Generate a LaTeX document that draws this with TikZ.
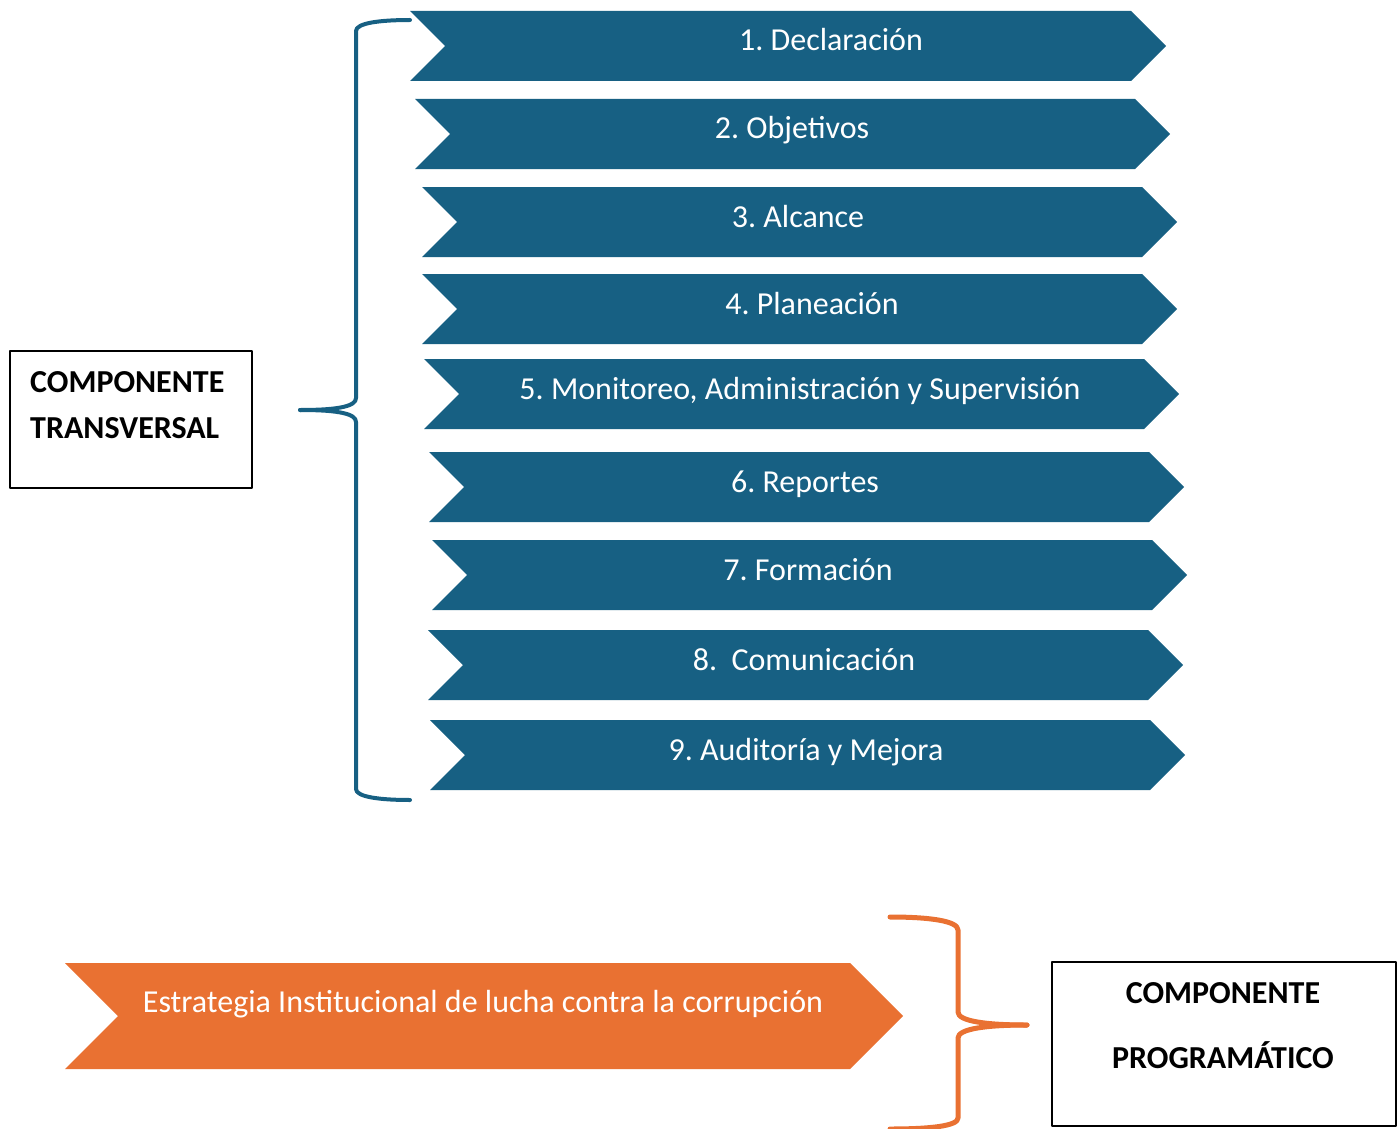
\documentclass[tikz,border=0pt]{standalone}
\usepackage{fontspec}
\usepackage{tikz}
\setmainfont{Carlito}
\usetikzlibrary{positioning}
\definecolor{azul}{rgb}{0.09,0.376,0.514}
\definecolor{naranja}{rgb}{0.914,0.443,0.196}
\frenchspacing
\tikzstyle{every node}=[font=\fontsize{32}{38}\selectfont]
\tikzset{
  paso/.style={anchor=base,text=white,inner sep=0pt},
  titulo/.style={anchor=base,font=\fontsize{32}{38}\selectfont\bfseries,inner sep=0pt},
  caja/.style={draw=black,line width=1.2pt,minimum width=#1,inner sep=0pt}
}
\begin{document}
\begin{tikzpicture}[line cap=round,line join=round,x=1pt,y=-1pt]
\useasboundingbox (0,0) rectangle (1400,1129);
% componente transversal
\fill[azul] (410,11) -- (1131,11) -- (1166,46) -- (1131,81) -- (410,81) -- (445,46) -- cycle;
\node[paso] (p1) at (831,51) {1. Declaración};
\fill[azul] (415,99) -- (1135,99) -- (1170,134) -- (1135,169) -- (415,169) -- (450,134) -- cycle;
\node[paso] (p2) at (792,139) {2. Objetivos};
\fill[azul] (422,187) -- (1142,187) -- (1177,222) -- (1142,257) -- (422,257) -- (457,222) -- cycle;
\node[paso] (p3) at (798,227) {3. Alcance};
\fill[azul] (422,274) -- (1142,274) -- (1177,309) -- (1142,344) -- (422,344) -- (457,309) -- cycle;
\node[paso] (p4) at (812,314) {4. Planeación};
\fill[azul] (424,359) -- (1144,359) -- (1179,394) -- (1144,429) -- (424,429) -- (459,394) -- cycle;
\node[paso] (p5) at (800,399) {5. Monitoreo, Administración y Supervisión};
\fill[azul] (429,452) -- (1149,452) -- (1184,487) -- (1149,522) -- (429,522) -- (464,487) -- cycle;
\node[paso] (p6) at (805,492) {6. Reportes};
\fill[azul] (432,540) -- (1152,540) -- (1187,575) -- (1152,610) -- (432,610) -- (467,575) -- cycle;
\node[paso] (p7) at (808,580) {7. Formación};
\fill[azul] (428,630) -- (1148,630) -- (1183,665) -- (1148,700) -- (428,700) -- (463,665) -- cycle;
\node[paso] (p8) at (804,670) {8.\ \ Comunicación};
\fill[azul] (430,720) -- (1150,720) -- (1185,755) -- (1150,790) -- (430,790) -- (465,755) -- cycle;
\node[paso] (p9) at (806,760) {9. Auditoría y Mejora};
\draw[azul,line width=4pt] (300,410) .. controls (340,410) and (356,406) .. (356,398) -- (356,31) .. controls (356,23) and (380,20) .. (410,20);
\draw[azul,line width=4pt] (300,410) .. controls (340,410) and (356,414) .. (356,422) -- (356,789) .. controls (356,797) and (380,800) .. (410,800);
\node[caja=242pt,minimum height=137pt] (transversal) at (131,419.5) {};
\node[titulo,anchor=base west] (t1) at (30,392) {COMPONENTE};
\node[titulo,anchor=base west] (t2) at (30,438) {TRANSVERSAL};
% componente programatico
\fill[naranja] (65,963) -- (850,963) -- (903,1016) -- (850,1069) -- (65,1069) -- (118,1016) -- cycle;
\node[paso] (estrategia) at (483,1012) {Estrategia Institucional de lucha contra la corrupción};
\draw[naranja,line width=5pt] (1027,1025) .. controls (985,1025) and (958,1021) .. (958,1012) -- (958,930) .. controls (958,921) and (930,917) .. (890,917);
\draw[naranja,line width=5pt] (1027,1025) .. controls (985,1025) and (958,1029) .. (958,1038) -- (958,1118) .. controls (958,1126) and (930,1129) .. (890,1129);
\node[caja=344pt,minimum height=164pt] (programatico) at (1224,1044) {};
\node[titulo] (t3) at (1223,1003) {COMPONENTE};
\node[titulo] (t4) at (1223,1068) {PROGRAMÁTICO};
\end{tikzpicture}
\end{document}
